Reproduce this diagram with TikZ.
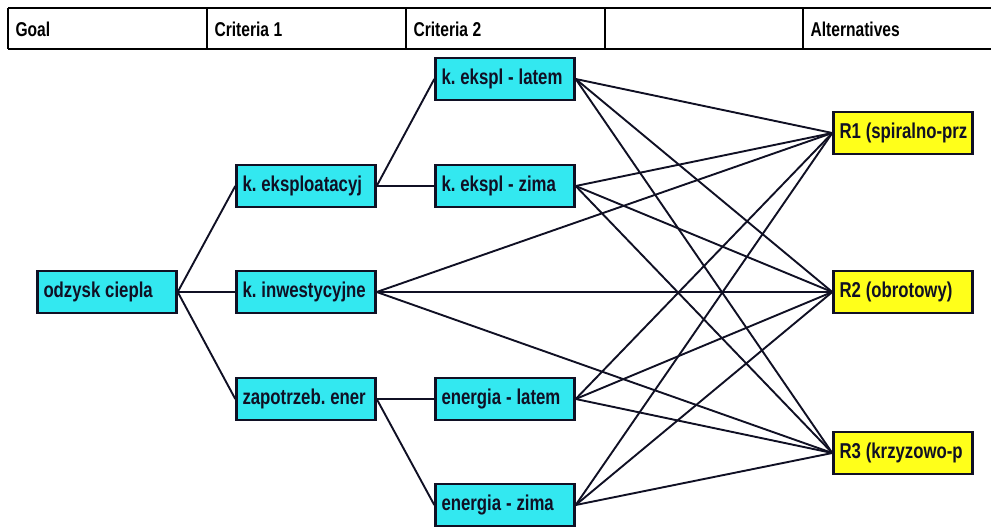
\documentclass[tikz,border=0pt]{standalone}
\usepackage{fontspec}
\newfontfamily\narrowsans{Liberation Sans}[FakeStretch=0.78,WordSpace=1.05]
\usetikzlibrary{positioning}
\definecolor{BoxCyan}{HTML}{33E8F0}
\definecolor{BoxYellow}{HTML}{FFFF1A}
\definecolor{Ink}{HTML}{101024}
\newcommand{\boxline}[1]{\hbox to 127pt{#1\hss}}

\begin{document}
\begin{tikzpicture}[x=1pt,y=-1pt,
      font=\narrowsans\bfseries\fontsize{21.5}{24}\selectfont\frenchspacing,
      crit/.style={draw=Ink,fill=BoxCyan,line width=2.4pt,text=Ink,
                   inner xsep=6pt,inner ysep=0pt,
                   minimum width=139pt,minimum height=42pt},
      alt/.style={crit,fill=BoxYellow},
      link/.style={draw=Ink,line width=1.9pt},
      head/.style={anchor=west,text=black,
                   font=\narrowsans\bfseries\fontsize{20}{22}\selectfont}]
    \useasboundingbox (0,0) rectangle (991,527);

    % Header row of the hierarchy table.
    \draw[line width=2.6pt] (8,8) -- (991,8);
    \draw[line width=2pt] (8,49) -- (991,49);
    \foreach \x in {8,207,406,605,803}{%
      \draw[line width=1.8pt] (\x,8) -- (\x,49);
    }
    \foreach \name/\x/\txt in {hgoal/8/Goal,hcritA/207/Criteria 1,
        hcritB/406/Criteria 2,halt/803/Alternatives}{%
      \node[head] (\name) at (\x+4,29) {\txt};
    }

    % Goal and criteria.
    \node[crit] (goal)  at (107,292) {\boxline{odzysk ciepla}};
    \node[crit] (keksp) at (306,186) {\boxline{k. eksploatacyj}};
    \node[crit] (kinw)  at (306,292) {\boxline{k. inwestycyjne}};
    \node[crit] (zapo)  at (306,399) {\boxline{zapotrzeb. ener}};
    \node[crit] (latem) at (505,79)  {\boxline{k. ekspl - latem}};
    \node[crit] (zima)  at (505,186) {\boxline{k. ekspl - zima}};
    \node[crit] (enlat) at (505,399) {\boxline{energia - latem}};
    \node[crit] (enzim) at (505,505) {\boxline{energia - zima}};

    % Alternatives.
    \node[alt] (alt1) at (903,133) {\boxline{R1 (spiralno-prz}};
    \node[alt] (alt2) at (903,292) {\boxline{R2 (obrotowy)}};
    \node[alt] (alt3) at (903,453) {\boxline{R3 (krzyzowo-p}};

    % Tree links, then every leaf criterion to every alternative.
    \foreach \a/\b in {goal/keksp,goal/kinw,goal/zapo,keksp/latem,
        keksp/zima,zapo/enlat,zapo/enzim}{%
      \draw[link] (\a.east) -- (\b.west);
    }
    \foreach \a in {kinw,latem,zima,enlat,enzim}{%
      \foreach \b in {alt1,alt2,alt3}{%
        \draw[link] (\a.east) -- (\b.west);
      }
    }
  \end{tikzpicture}
\end{document}
